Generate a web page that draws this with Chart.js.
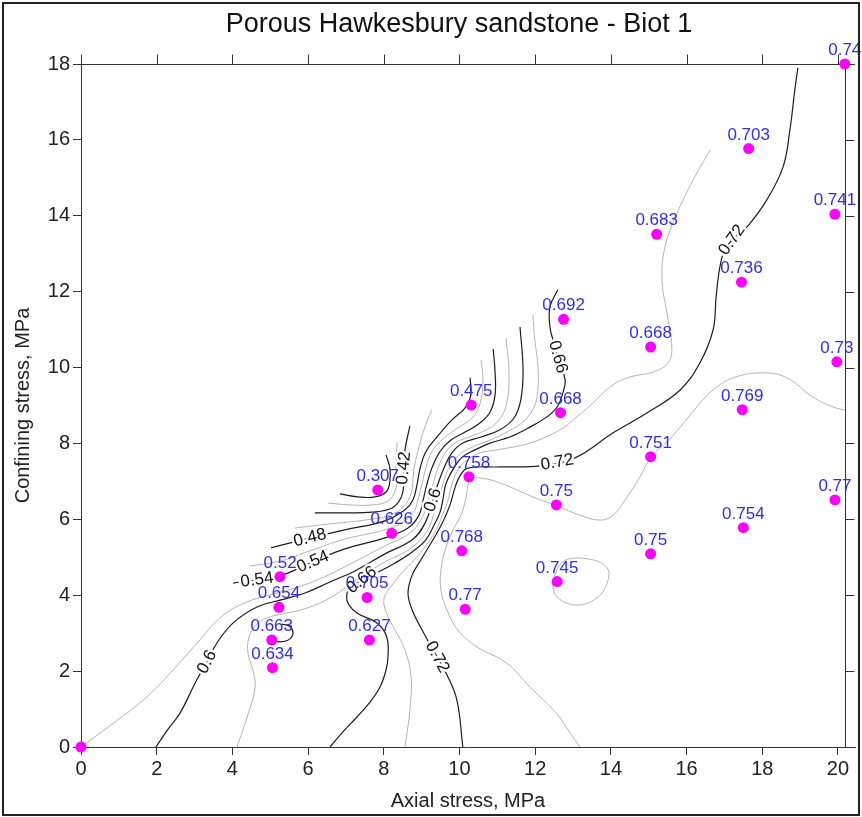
<!DOCTYPE html>
<html><head><meta charset="utf-8">
<script src="https://cdn.jsdelivr.net/npm/chart.js@4/dist/chart.umd.min.js"></script>
<style>html,body{margin:0;padding:0;background:#fff}#wrap{width:862px;height:817px}</style>
</head><body><div id="wrap"><canvas id="c" width="862" height="817"></canvas></div>
<script>
const titleText = 'Porous Hawkesbury sandstone - Biot 1';
const xTitle = 'Axial stress, MPa';
const yTitle = 'Confining stress, MPa';
const xTicks = [0, 2, 4, 6, 8, 10, 12, 14, 16, 18, 20];
const yTicks = [0, 2, 4, 6, 8, 10, 12, 14, 16, 18];
const xMin = 0, xMax = 20.45, yMin = 0, yMax = 18;
const rightAxisAt = 20.18;

// sample points (axial stress, confining stress, Biot coefficient)
const sampleX = [0, 20.18, 17.64, 19.92, 15.21, 17.45, 12.75, 15.05, 19.97, 12.67, 17.47, 15.05, 12.56, 19.92, 17.50, 15.05, 12.58, 10.31, 10.25, 7.84, 8.21, 5.26, 5.23, 5.04, 5.06, 7.56, 7.62, 10.06, 10.15];
const sampleY = [0, 18.0, 15.77, 14.04, 13.51, 12.25, 11.27, 10.54, 10.15, 8.81, 8.89, 7.65, 6.38, 6.51, 5.78, 5.09, 4.36, 9.01, 7.12, 6.77, 5.63, 4.49, 3.68, 2.82, 2.09, 3.94, 2.82, 5.17, 3.63];
const sampleLabel = ['', '0.74', '0.703', '0.741', '0.683', '0.736', '0.692', '0.668', '0.73', '0.668', '0.769', '0.751', '0.75', '0.77', '0.754', '0.75', '0.745', '0.475', '0.758', '0.307', '0.626', '0.52', '0.654', '0.663', '0.634', '0.705', '0.627', '0.768', '0.77'];

// contour lines: [axial, confining]
const level036 = [[6.84,6.67],[7.32,6.59],[7.77,6.59],[8.06,6.72],[8.16,6.98],[8.16,7.35],[8.06,7.70]];
const level039 = [[6.53,6.43],[7.11,6.38],[7.69,6.38],[8.11,6.48],[8.30,6.75],[8.35,7.09],[8.32,7.35],[8.35,8.01]];
const level042 = [[6.18,6.17],[6.97,6.17],[7.69,6.19],[8.22,6.30],[8.45,6.56],[8.53,6.93],[8.53,7.35],[8.56,7.83],[8.69,8.46]];
const level045 = [[5.65,5.77],[6.58,5.88],[7.50,5.98],[8.16,6.11],[8.53,6.35],[8.72,6.67],[8.77,7.04],[8.80,7.35],[8.90,7.78],[9.06,8.36],[9.27,8.88]];
const level048 = [[5.02,5.25],[6.05,5.51],[6.97,5.72],[8.03,5.96],[8.56,6.25],[8.77,6.51],[8.88,6.93],[8.96,7.35],[9.11,7.78],[9.43,8.20],[9.80,8.62],[10.15,8.94],[10.30,9.28],[10.28,9.73]];
const level051 = [[4.47,4.77],[5.26,4.90],[6.05,5.17],[6.97,5.48],[8.03,5.72],[8.56,5.96],[8.82,6.25],[8.90,6.51],[9.01,6.93],[9.11,7.35],[9.27,7.78],[9.59,8.14],[9.96,8.41],[10.33,8.67],[10.54,9.04],[10.62,9.67],[10.57,10.20]];
const level054 = [[4.02,4.32],[4.65,4.40],[5.26,4.51],[6.13,4.88],[6.97,5.22],[8.03,5.51],[8.64,5.77],[8.93,6.11],[9.04,6.51],[9.14,6.93],[9.27,7.35],[9.48,7.78],[9.75,8.07],[10.15,8.30],[10.54,8.54],[10.81,8.83],[10.94,9.28],[10.94,9.88],[10.89,10.49]];
const level057 = [[0,0],[0.90,0.66],[1.74,1.32],[2.48,2.08],[3.14,2.82],[3.73,3.45],[4.33,3.80],[4.99,4.01],[5.65,4.19],[6.31,4.43],[7.11,4.82],[8.03,5.30],[8.69,5.64],[9.01,6.04],[9.17,6.51],[9.30,6.93],[9.43,7.35],[9.64,7.78],[9.93,8.04],[10.33,8.20],[10.75,8.38],[11.07,8.65],[11.25,9.07],[11.31,9.80],[11.23,10.78]];
const level060 = [[1.98,0],[2.30,0.47],[2.62,0.90],[3.06,1.77],[3.33,2.24],[3.59,2.74],[4.02,3.27],[4.65,3.69],[5.26,3.87],[5.92,4.06],[6.58,4.35],[7.24,4.64],[8.03,5.09],[8.75,5.46],[9.09,5.90],[9.30,6.51],[9.43,6.93],[9.59,7.35],[9.80,7.75],[10.09,8.01],[10.57,8.17],[11.07,8.36],[11.44,8.67],[11.62,9.15],[11.68,9.94],[11.60,11.07]];
const level063 = [[4.12,0],[4.39,0.79],[4.60,1.58],[4.54,2.03],[4.41,2.48],[4.44,2.90],[4.60,3.19],[4.91,3.40],[5.44,3.53],[5.97,3.66],[6.58,3.93],[7.24,4.38],[8.03,4.88],[8.69,5.22],[9.14,5.69],[9.43,6.51],[9.56,6.93],[9.72,7.35],[9.96,7.67],[10.28,7.88],[10.81,8.09],[11.31,8.33],[11.70,8.59],[11.97,8.96],[12.07,9.41],[12.07,10.07],[11.99,10.73],[11.94,11.39]];
const level066 = [[6.58,0],[6.92,0.40],[7.29,0.79],[7.64,1.19],[7.90,1.58],[8.06,2.03],[8.11,2.37],[8.08,2.90],[7.82,3.27],[7.29,3.53],[7.05,3.80],[7.03,4.06],[7.11,4.19],[7.42,4.40],[7.85,4.61],[8.30,4.85],[8.75,5.14],[9.11,5.46],[9.33,5.85],[9.48,6.17],[9.56,6.51],[9.64,6.93],[9.85,7.35],[10.07,7.64],[10.41,7.83],[10.81,8.01],[11.33,8.17],[11.86,8.43],[12.31,8.70],[12.58,8.96],[12.73,9.33],[12.79,9.67],[12.60,10.28],[12.47,10.73],[12.39,11.07],[12.39,11.60],[12.60,12.05]];
const level066b = [[5.05,2.82],[5.26,2.77],[5.52,2.85],[5.60,3.03],[5.50,3.19],[5.31,3.24]];
const level069 = [[8.56,0],[8.69,0.98],[8.72,1.85],[8.56,2.56],[8.30,3.08],[8.06,3.56],[8.01,3.93],[8.22,4.27],[8.48,4.59],[8.80,4.93],[9.11,5.30],[9.38,5.72],[9.56,6.14],[9.70,6.51],[9.80,6.93],[9.99,7.35],[10.20,7.56],[10.54,7.75],[10.99,7.83],[11.86,8.01],[12.66,8.36],[13.10,8.70],[13.53,9.07],[13.98,9.49],[14.50,9.75],[15.11,9.88],[15.51,10.12],[15.61,10.54],[15.48,11.44],[15.35,12.31],[15.43,13.18],[15.75,14.07],[16.17,14.94],[16.62,15.73]];
const level072 = [[10.09,0],[9.93,1.24],[9.67,1.90],[9.41,2.37],[9.04,3.03],[8.75,3.61],[8.64,4.06],[8.75,4.53],[9.01,4.98],[9.30,5.46],[9.56,5.93],[9.75,6.38],[9.88,6.83],[10.01,7.14],[10.22,7.35],[11.07,7.38],[12.13,7.41],[13.05,7.62],[14.06,8.28],[14.95,8.80],[15.83,9.41],[16.35,10.12],[16.70,10.99],[16.78,11.86],[16.88,12.65],[17.01,13.10],[17.28,13.44],[17.60,13.71],[18.12,14.42],[18.55,15.29],[18.73,16.26],[18.86,17.32],[18.94,17.90]];
const level075 = [[13.18,0],[12.87,0.45],[12.55,0.90],[11.86,1.58],[11.25,2.21],[10.46,2.64],[9.96,3.08],[9.67,3.61],[9.51,4.14],[9.51,4.67],[9.62,5.19],[9.83,5.72],[10.04,6.11],[10.17,6.56],[10.28,7.04],[10.54,7.09],[11.07,6.96],[11.94,6.59],[12.58,6.35],[13.18,6.11],[13.71,5.98],[14.06,6.11],[14.43,6.59],[14.77,7.12],[15.06,7.64],[15.48,8.04],[15.83,8.43],[16.27,8.96],[16.70,9.41],[17.23,9.73],[18.02,9.86],[18.65,9.73],[19.34,9.22],[19.87,8.96],[20.18,8.88]];
const level075b = [[12.44,4.32],[12.73,4.88],[13.37,4.96],[13.90,4.72],[13.90,4.32],[13.63,3.93],[13.10,3.74],[12.58,3.95],[12.44,4.32]];

const contourLevels = [0.36, 0.39, 0.42, 0.45, 0.48, 0.51, 0.54, 0.57, 0.60, 0.63, 0.66, 0.66, 0.69, 0.72, 0.75, 0.75];
const contourLines = [level036, level039, level042, level045, level048, level051, level054, level057, level060, level063, level066, level066b, level069, level072, level075, level075b];

// contour labels
const contourLabelText = ['0.42', '0.48', '0.54', '0.54', '0.6', '0.6', '0.66', '0.66', '0.72', '0.72', '0.72'];
const contourLabelX = [8.53, 6.05, 6.13, 4.65, 3.33, 9.30, 7.42, 12.60, 9.41, 12.58, 17.20];
const contourLabelY = [7.35, 5.51, 4.88, 4.40, 2.24, 6.51, 4.40, 10.28, 2.37, 7.50, 13.36];
const contourLabelAngle = [-85, -14, -23, -8, -62, -72, -38, 75, 62, -10, -55];

const FONT = "'Liberation Sans', Arial, Helvetica, sans-serif";
const isMajor = lv => Math.abs(Math.round(lv * 100) % 6) === 0;

const datasets = contourLines.map((pts, i) => ({
  label: 'c' + contourLevels[i],
  data: pts.map(p => ({x: p[0], y: p[1]})),
  showLine: true,
  borderColor: isMajor(contourLevels[i]) ? '#1e1e1e' : '#b4b4b4',
  borderWidth: isMajor(contourLevels[i]) ? 1.2 : 1,
  pointRadius: 0,
  tension: 0.4,
  fill: false,
  order: 1
}));
datasets.push({
  label: 'samples',
  data: sampleX.map((x, i) => ({x: x, y: sampleY[i]})),
  pointRadius: 5.5,
  pointBackgroundColor: '#ff00ff',
  pointBorderColor: '#ff00ff',
  pointBorderWidth: 0,
  showLine: false,
  clip: false,
  order: 0
});

const framePlugin = {
  id: 'frame',
  beforeDraw(chart) {
    const ctx = chart.ctx;
    ctx.save();
    ctx.fillStyle = '#ffffff';
    ctx.fillRect(0, 0, chart.width, chart.height);
    ctx.restore();
  },
  beforeDatasetsDraw(chart) {
    const {ctx, scales: {x, y}} = chart;
    const top = y.getPixelForValue(yMax), bottom = y.getPixelForValue(yMin);
    const left = x.getPixelForValue(xMin), rightEnd = x.getPixelForValue(xMax);
    const rAx = Math.round(x.getPixelForValue(rightAxisAt)) + 0.5;
    ctx.save();
    ctx.strokeStyle = '#333';
    ctx.lineWidth = 1;
    ctx.beginPath();
    const t = Math.round(top) + 0.5;
    ctx.moveTo(left, t); ctx.lineTo(rightEnd, t);
    xTicks.forEach(v => { const px = Math.round(x.getPixelForValue(v)) + 0.5; ctx.moveTo(px, t); ctx.lineTo(px, t - 10); });
    ctx.moveTo(rAx, top); ctx.lineTo(rAx, bottom);
    yTicks.forEach(v => { const py = Math.round(y.getPixelForValue(v)) + 0.5; ctx.moveTo(rAx, py); ctx.lineTo(rAx + 9, py); });
    ctx.stroke();
    ctx.restore();
  },
  beforeDatasetDraw(chart, args) {
    if (chart.data.datasets[args.index].label !== 'samples') return;
    const {ctx, scales: {x, y}} = chart;
    ctx.save();
    ctx.font = '17px ' + FONT;
    ctx.textAlign = 'center';
    ctx.textBaseline = 'middle';
    contourLabelText.forEach((txt, i) => {
      const px = x.getPixelForValue(contourLabelX[i]);
      const py = y.getPixelForValue(contourLabelY[i]);
      ctx.save();
      ctx.translate(px, py);
      ctx.rotate(contourLabelAngle[i] * Math.PI / 180);
      ctx.lineWidth = 5;
      ctx.strokeStyle = '#ffffff';
      ctx.lineJoin = 'round';
      ctx.strokeText(txt, 0, 0);
      ctx.fillStyle = '#111';
      ctx.fillText(txt, 0, 0);
      ctx.restore();
    });
    ctx.restore();
  },
  afterDatasetsDraw(chart) {
    const {ctx, scales: {x, y}} = chart;
    ctx.save();
    ctx.font = '17px ' + FONT;
    ctx.textAlign = 'center';
    ctx.textBaseline = 'alphabetic';
    ctx.fillStyle = '#2f2fe6';
    sampleLabel.forEach((txt, i) => {
      if (!txt) return;
      const px = x.getPixelForValue(sampleX[i]);
      const py = y.getPixelForValue(sampleY[i]);
      ctx.fillText(txt, px, py - 9);
    });
    ctx.restore();
  },
  afterDraw(chart) {
    const ctx = chart.ctx;
    ctx.save();
    ctx.lineWidth = 2;
    ctx.strokeStyle = '#222';
    ctx.strokeRect(3, 3, chart.width - 6, chart.height - 5);
    ctx.fillStyle = '#111';
    ctx.font = '27px ' + FONT;
    ctx.textAlign = 'center';
    ctx.textBaseline = 'alphabetic';
    ctx.fillText(titleText, 459, 32);
    ctx.restore();
  }
};

new Chart(document.getElementById('c'), {
  type: 'scatter',
  data: {datasets: datasets},
  options: {
    responsive: false,
    animation: false,
    devicePixelRatio: 1,
    events: [],
    layout: {padding: {left: 0, right: 7, top: 64, bottom: 0}},
    plugins: {legend: {display: false}, title: {display: false}, tooltip: {enabled: false}},
    scales: {
      x: {
        type: 'linear', position: 'bottom', min: xMin, max: xMax,
        afterBuildTicks: s => { s.ticks = xTicks.map(v => ({value: v})); },
        afterFit: s => { s.height = 70; },
        grid: {display: true, drawOnChartArea: false, drawTicks: true, tickLength: 8, color: '#333', lineWidth: 1},
        border: {display: true, color: '#333', width: 1},
        ticks: {font: {family: FONT, size: 20}, color: '#222', padding: 2, maxRotation: 0, autoSkip: false},
        title: {display: true, text: xTitle, font: {family: FONT, size: 20}, color: '#222', padding: {top: 0, bottom: 4}}
      },
      y: {
        type: 'linear', position: 'left', min: yMin, max: yMax,
        afterBuildTicks: s => { s.ticks = yTicks.map(v => ({value: v})); },
        afterFit: s => { s.width = 81; },
        grid: {display: true, drawOnChartArea: false, drawTicks: true, tickLength: 8, color: '#333', lineWidth: 1},
        border: {display: true, color: '#333', width: 1},
        ticks: {font: {family: FONT, size: 20}, color: '#222', padding: 3, autoSkip: false},
        title: {display: true, text: yTitle, font: {family: FONT, size: 20}, color: '#222', padding: {top: 11, bottom: 0}}
      }
    }
  },
  plugins: [framePlugin]
});
</script>
</body></html>
